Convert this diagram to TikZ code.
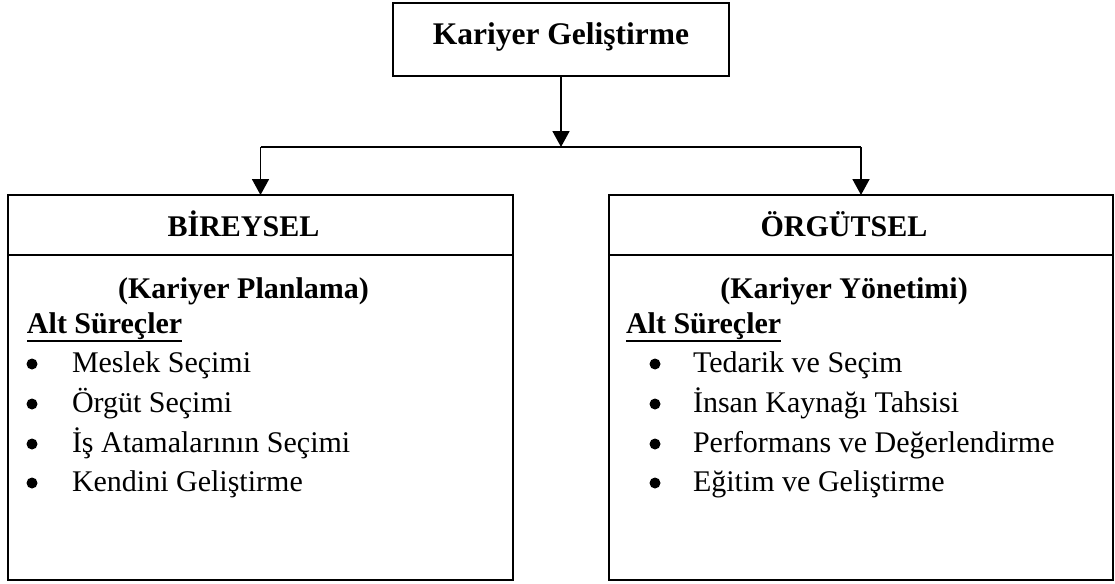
\documentclass[tikz,border=0pt]{standalone}
\usepackage{fontspec}
\setmainfont{Liberation Serif}
\usetikzlibrary{arrows.meta}
\begin{document}
\begin{tikzpicture}[x=1pt,y=1pt,
  box/.style={draw, line width=1.8pt, inner sep=0pt, outer sep=0pt},
  link/.style={line width=1.8pt},
  arrow/.style={link, -{Triangle[width=17pt,length=16pt]}},
  body/.style={inner sep=0pt, outer sep=0pt, anchor=base west, font=\fontsize{30}{36}\selectfont},
  head/.style={inner sep=0pt, outer sep=0pt, anchor=base, font=\fontsize{30}{36}\selectfont\bfseries},
  sub/.style={body, font=\fontsize{30}{36}\selectfont\bfseries},
  bul/.style={circle, fill, inner sep=0pt, minimum size=11pt}
]
\useasboundingbox (0,0) rectangle (1115,-583);

% top box
\node[box, minimum width=336pt, minimum height=73pt] (top) at (561,-39.5) {};
\node[head, font=\fontsize{31.5}{36}\selectfont\bfseries] (title) at (561,-45) {Kariyer Geliştirme};

% branching connectors
\coordinate (jc) at (561,-147);
\coordinate (jl) at (260.5,-147);
\coordinate (jr) at (861,-147);

% left box: BİREYSEL
\node[box, minimum width=505pt, minimum height=385pt] (bir) at (260.5,-387.5) {};
\coordinate (birL) at (8,-255);
\coordinate (birR) at (513,-255);
\draw[link] (birL) -- (birR);
\node[head] (birh) at (243.5,-236) {BİREYSEL};
\node[head] (birs) at (243.5,-298) {(Kariyer Planlama)};
\node[sub] (birA) at (27,-333) {Alt Süreçler};
\draw[line width=2.8pt] ([yshift=-8pt]birA.base west) -- ([yshift=-8pt]birA.base east);
\node[bul] (bb1) at (32,-364) {};
\node[bul] (bb2) at (32,-404) {};
\node[bul] (bb3) at (32,-444) {};
\node[bul] (bb4) at (32,-483) {};
\node[body] (bi1) at (72,-372) {Meslek Seçimi};
\node[body] (bi2) at (72,-412) {Örgüt Seçimi};
\node[body] (bi3) at (72,-452) {İş Atamalarının Seçimi};
\node[body] (bi4) at (72,-491) {Kendini Geliştirme};

% right box: ÖRGÜTSEL
\node[box, minimum width=504pt, minimum height=385pt] (org) at (861,-387.5) {};
\coordinate (orgL) at (609,-255);
\coordinate (orgR) at (1113,-255);
\draw[link] (orgL) -- (orgR);
\node[head] (orgh) at (844,-236) {ÖRGÜTSEL};
\node[head] (orgs) at (844,-298) {(Kariyer Yönetimi)};
\node[sub] (orgA) at (626,-333) {Alt Süreçler};
\draw[line width=2.8pt] ([yshift=-8pt]orgA.base west) -- ([yshift=-8pt]orgA.base east);
\node[bul] (ob1) at (655,-364) {};
\node[bul] (ob2) at (655,-404) {};
\node[bul] (ob3) at (655,-444) {};
\node[bul] (ob4) at (655,-483) {};
\node[body] (oi1) at (693,-372) {Tedarik ve Seçim};
\node[body] (oi2) at (693,-412) {İnsan Kaynağı Tahsisi};
\node[body] (oi3) at (693,-452) {Performans ve Değerlendirme};
\node[body] (oi4) at (693,-491) {Eğitim ve Geliştirme};

% connectors
\draw[arrow] (top.south) -- (jc);
\draw[link] (jl) -- (jr);
\draw[arrow] (jl) -- (bir.north);
\draw[arrow] (jr) -- (org.north);
\end{tikzpicture}
\end{document}
